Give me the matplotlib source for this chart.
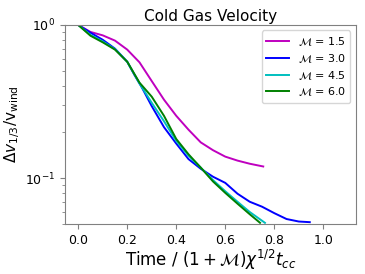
import numpy as np
import matplotlib
matplotlib.use('Agg')
import matplotlib.pyplot as plt

# time / (1+M) chi^1/2 t_cc  and  dv_1/3 / v_wind
t_15 = [0.0, 0.05, 0.10, 0.15, 0.20, 0.25, 0.30, 0.35, 0.40, 0.45, 0.50, 0.55, 0.60, 0.65, 0.70, 0.755]
v_15 = [1.0, 0.90, 0.855, 0.79, 0.69, 0.57, 0.43, 0.325, 0.255, 0.207, 0.171, 0.152, 0.138, 0.130, 0.124, 0.119]

t_30 = [0.0, 0.05, 0.10, 0.15, 0.20, 0.23, 0.26, 0.30, 0.35, 0.40, 0.45, 0.50, 0.55, 0.60, 0.65, 0.70, 0.75, 0.80, 0.85, 0.90, 0.945]
v_30 = [1.0, 0.89, 0.80, 0.70, 0.575, 0.47, 0.39, 0.295, 0.215, 0.168, 0.133, 0.115, 0.102, 0.093, 0.079, 0.070, 0.065, 0.059, 0.054, 0.052, 0.0515]

t_45 = [0.0, 0.05, 0.10, 0.15, 0.20, 0.25, 0.30, 0.35, 0.40, 0.45, 0.50, 0.55, 0.60, 0.65, 0.70, 0.762]
v_45 = [1.0, 0.86, 0.78, 0.695, 0.575, 0.415, 0.31, 0.235, 0.175, 0.14, 0.117, 0.097, 0.082, 0.070, 0.060, 0.051]

t_60 = [0.0, 0.05, 0.10, 0.15, 0.20, 0.25, 0.30, 0.35, 0.40, 0.45, 0.50, 0.55, 0.60, 0.65, 0.70, 0.742]
v_60 = [1.0, 0.85, 0.77, 0.69, 0.575, 0.42, 0.34, 0.255, 0.18, 0.143, 0.117, 0.095, 0.080, 0.068, 0.058, 0.051]

series = [
    (t_15, v_15, 'm', r'$\mathcal{M}$ = 1.5'),
    (t_30, v_30, 'b', r'$\mathcal{M}$ = 3.0'),
    (t_45, v_45, 'c', r'$\mathcal{M}$ = 4.5'),
    (t_60, v_60, 'g', r'$\mathcal{M}$ = 6.0'),
]

fig = plt.figure(figsize=(3.65, 2.74), dpi=100)
ax = fig.add_axes([0.178, 0.182, 0.797, 0.727])

for t, v, c, lab in series:
    ax.plot(t, v, color=c, lw=1.4, label=lab)

ax.set_yscale('log')
ax.set_xlim(-0.054, 1.133)
ax.set_ylim(0.05, 1.0)
ax.set_xticks([0.0, 0.2, 0.4, 0.6, 0.8, 1.0])

for s in ax.spines.values():
    s.set_color('#808080')
ax.tick_params(which='both', colors='#808080', labelcolor='black', labelsize=9)

ax.set_title('Cold Gas Velocity', fontsize=11, pad=3)
ax.set_xlabel(r'Time / $(1+\mathcal{M})\chi^{1/2}t_{cc}$', fontsize=12, labelpad=1)
ax.set_ylabel(r'$\Delta v_{1/3}/\mathrm{v_{wind}}$', fontsize=11, labelpad=2)
ax.legend(loc='upper right', fontsize=8, labelspacing=0.35)

fig.savefig('out.png', dpi=100)
